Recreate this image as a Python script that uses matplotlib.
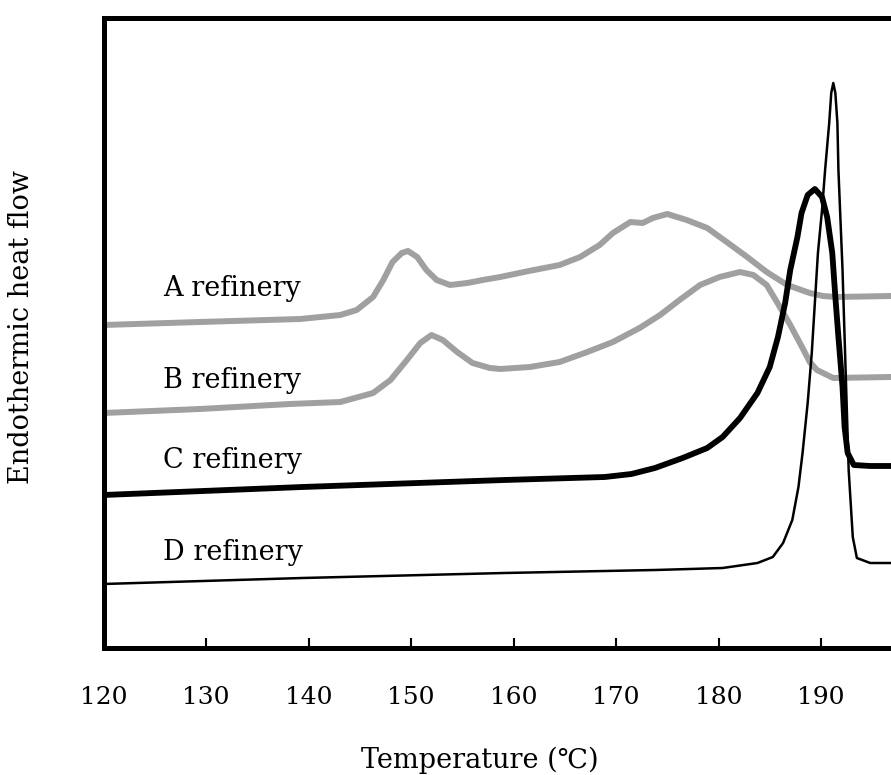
import matplotlib
matplotlib.use('agg')
import matplotlib.pyplot as plt

# DSC curves of four refineries (temperature in deg C, heat flow in arbitrary units)
a_temp = [120, 129.4, 139.2, 143.1, 144.7, 146.3, 147.3, 148.2, 149.1, 149.7, 150.6, 151.5,
          152.5, 153.8, 155.5, 157.0, 158.7, 161.5, 164.5, 166.5, 168.4, 169.7, 171.4, 172.6,
          173.6, 175.0, 176.9, 178.9, 180.8, 182.8, 184.7, 186.7, 188.9, 190.2, 191.5, 196.8, 200]
a_flow = [32.3, 32.6, 32.9, 33.3, 33.8, 35.1, 36.8, 38.6, 39.5, 39.7, 39.1, 37.8,
          36.8, 36.3, 36.5, 36.8, 37.1, 37.7, 38.3, 39.1, 40.3, 41.5, 42.6, 42.5,
          43.0, 43.4, 42.8, 42.0, 40.6, 39.1, 37.6, 36.3, 35.5, 35.2, 35.1, 35.2, 35.2]

b_temp = [120, 129.4, 138.2, 143.1, 146.3, 148.0, 149.6, 150.9, 152.0, 153.1, 154.5, 156.0,
          157.7, 158.7, 161.6, 164.5, 167.2, 169.7, 172.3, 174.3, 176.2, 178.2, 180.1, 182.1,
          183.4, 184.7, 185.7, 187.0, 188.2, 188.9, 189.6, 191.2, 196.8, 200]
b_flow = [23.5, 23.9, 24.4, 24.6, 25.5, 26.8, 28.8, 30.5, 31.3, 30.8, 29.6, 28.5,
          28.0, 27.9, 28.1, 28.6, 29.6, 30.6, 32.0, 33.3, 34.8, 36.3, 37.1, 37.6,
          37.3, 36.3, 34.6, 32.3, 30.0, 28.6, 27.8, 27.0, 27.1, 27.1]

c_temp = [120, 139.4, 159.1, 168.9, 171.5, 173.8, 176.5, 178.9, 180.4, 182.1, 183.8, 185.0,
          185.8, 186.5, 187.0, 187.7, 188.1, 188.7, 189.4, 190.1, 190.6, 191.1, 191.4, 191.7,
          192.1, 192.3, 192.6, 193.2, 194.8, 200]
c_flow = [15.3, 16.1, 16.8, 17.1, 17.4, 18.0, 19.0, 20.0, 21.1, 23.0, 25.5, 28.1,
          31.1, 34.5, 37.8, 41.1, 43.5, 45.3, 45.9, 45.1, 43.1, 39.5, 35.1, 31.1,
          26.1, 22.1, 19.5, 18.3, 18.2, 18.2]

d_temp = [120, 139.4, 159.1, 173.8, 177.2, 180.4, 183.8, 185.3, 186.3, 187.2, 187.8, 188.2,
          188.7, 189.1, 189.4, 189.7, 190.1, 190.4, 190.8, 191.0, 191.2, 191.4, 191.6, 191.7,
          192.1, 192.4, 192.7, 193.1, 193.5, 194.8, 200]
d_flow = [6.4, 7.0, 7.5, 7.8, 7.9, 8.0, 8.5, 9.1, 10.5, 12.8, 16.1, 19.5,
          24.5, 29.5, 34.5, 39.5, 43.8, 47.8, 52.5, 55.5, 56.5, 55.5, 52.5, 47.8,
          37.8, 27.8, 17.8, 11.1, 9.0, 8.5, 8.5]

names = ['A refinery', 'B refinery', 'C refinery', 'D refinery']
name_y = [36.0, 26.8, 18.8, 9.5]
ticks = [120, 130, 140, 150, 160, 170, 180, 190]

plt.rcParams['font.family'] = ['DejaVu Serif', 'Noto Sans CJK JP']

fig = plt.figure(figsize=(8.91, 7.75), dpi=100)
ax = fig.add_axes([103.5 / 891, 1 - 648 / 775, 820 / 891, 630 / 775])

gray = '#a0a0a0'
ax.plot(a_temp, a_flow, color=gray, linewidth=4.3, solid_joinstyle='round')
ax.plot(b_temp, b_flow, color=gray, linewidth=4.3, solid_joinstyle='round')
ax.plot(c_temp, c_flow, color='black', linewidth=4.2, solid_joinstyle='round')
ax.plot(d_temp, d_flow, color='black', linewidth=1.8, solid_joinstyle='round')

for name, y in zip(names, name_y):
    ax.text(125.8, y, name, fontsize=19.5, ha='left', va='center')

ax.set_xlim(120, 200)
ax.set_ylim(0, 63)
ax.set_xticks(ticks)
ax.set_yticks([])
ax.tick_params(axis='x', direction='in', length=7, width=1.5, pad=27, labelsize=18)
for s in ax.spines.values():
    s.set_linewidth(3.6)

fig.text(480 / 891, 1 - 760 / 775, 'Temperature (℃)', fontsize=19.5, ha='center', va='center')
fig.text(22 / 891, 1 - 327 / 775, 'Endothermic heat flow', fontsize=19.5, rotation=90,
         ha='center', va='center')

plt.savefig('out.png', dpi=100)
plt.close()
